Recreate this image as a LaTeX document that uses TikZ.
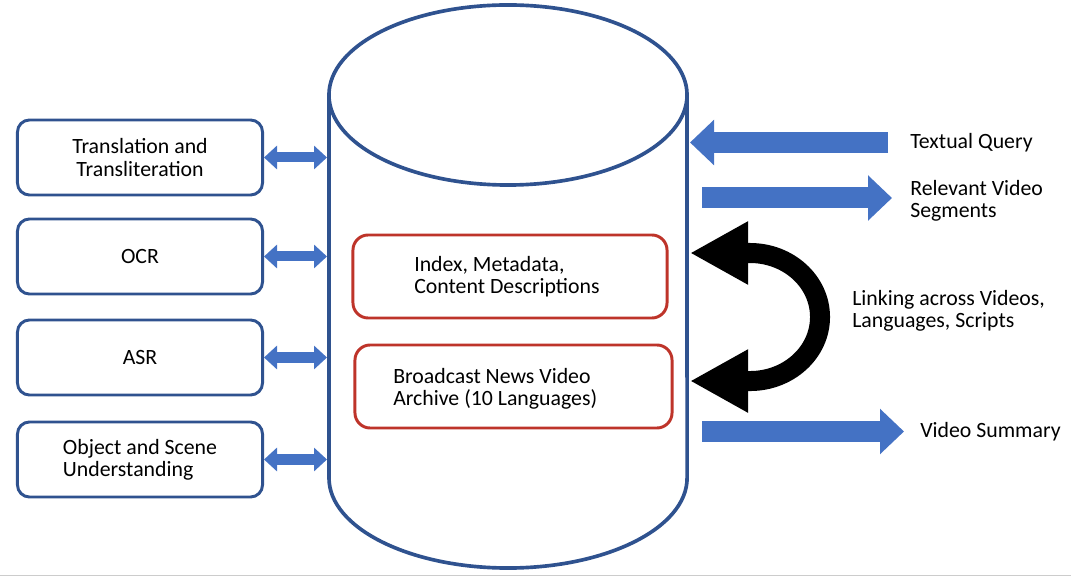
\documentclass[tikz,border=0pt]{standalone}
\usepackage{fontspec}
\setmainfont{Carlito}
\usetikzlibrary{arrows.meta,positioning}
\definecolor{dbblue}{RGB}{47,82,143}
\definecolor{arrblue}{RGB}{68,114,196}
\definecolor{boxred}{RGB}{190,52,42}
\begin{document}
\begin{tikzpicture}[x=0.025cm,y=-0.025cm,font=\fontsize{15.5}{15.8}\selectfont,
    tool/.style={draw=dbblue,line width=2.1pt,rounded corners=0.3cm,minimum width=6.125cm,minimum height=1.875cm},
    store/.style={draw=boxred,line width=2.1pt,rounded corners=0.38cm,minimum height=2.075cm},
    txt/.style={inner sep=0pt,anchor=west,align=left},
    dbl/.style={arrblue,line width=0.25cm,{Triangle[length=0.325cm,width=0.575cm]}-{Triangle[length=0.325cm,width=0.575cm]}},
    blk/.style={arrblue,line width=0.525cm,-{Triangle[length=0.6cm,width=1.1cm]}}]
  \useasboundingbox (0,0) rectangle (1071,576);
  \draw[gray!40,line width=0.7pt] (0,575) -- (1071,575);
  \draw[dbblue,line width=2.6pt] (329,95) -- (329,478) arc[start angle=180,end angle=360,x radius=4.475cm,y radius=2.25cm] -- (687,95);
  \draw[dbblue,line width=2.6pt] (508,95) ellipse[x radius=4.475cm,y radius=2.25cm];
  \coordinate (dbL) at (327,0);
  \coordinate (dbR) at (690,0);
  \node[tool,align=center] (trans) at (140,157.5) {Translation and\\Transliteration};
  \node[tool] (ocr) at (140,256.5) {OCR};
  \node[tool] (asr) at (140,357.5) {ASR};
  \node[tool,align=left] (obj) at (140,459.5) {Object and Scene\\Understanding};
  \foreach \n in {trans,ocr,asr,obj}
    \draw[dbl] (\n.east) -- (\n.east -| dbL);
  \node[store,minimum width=7.85cm] (index) at (510,276.5) {};
  \node[txt] at (414,276.5) {Index, Metadata,\\Content Descriptions};
  \node[store,minimum width=7.925cm] (archive) at (513.5,386.5) {};
  \node[txt] at (393,388.5) {Broadcast News Video\\Archive (10 Languages)};
  \node[txt] (query) at (910,143) {Textual Query};
  \node[txt] (relev) at (910,201) {Relevant Video\\Segments};
  \node[txt] (link) at (852,311) {Linking across Videos,\\Languages, Scripts};
  \node[txt] (summ) at (920,432) {Video Summary};
  \coordinate (qin) at (888,142.5);
  \coordinate (rout) at (702,198);
  \coordinate (sout) at (702,431.5);
  \draw[blk] (qin) -- (qin -| dbR);
  \draw[blk] (rout) -- ([xshift=-0.45cm]rout -| relev.west);
  \draw[blk] (sout) -- ([xshift=-0.4cm]sout -| summ.west);
  \draw[line width=0.5cm,{Triangle[length=1.45cm,width=1.475cm]}-{Triangle[length=1.45cm,width=1.475cm]}]
    (dbR |- 0,253) -- (750,253) arc[start angle=90,end angle=-90,x radius=1.75cm,y radius=1.6cm] -- (dbR |- 0,381);
\end{tikzpicture}
\end{document}
